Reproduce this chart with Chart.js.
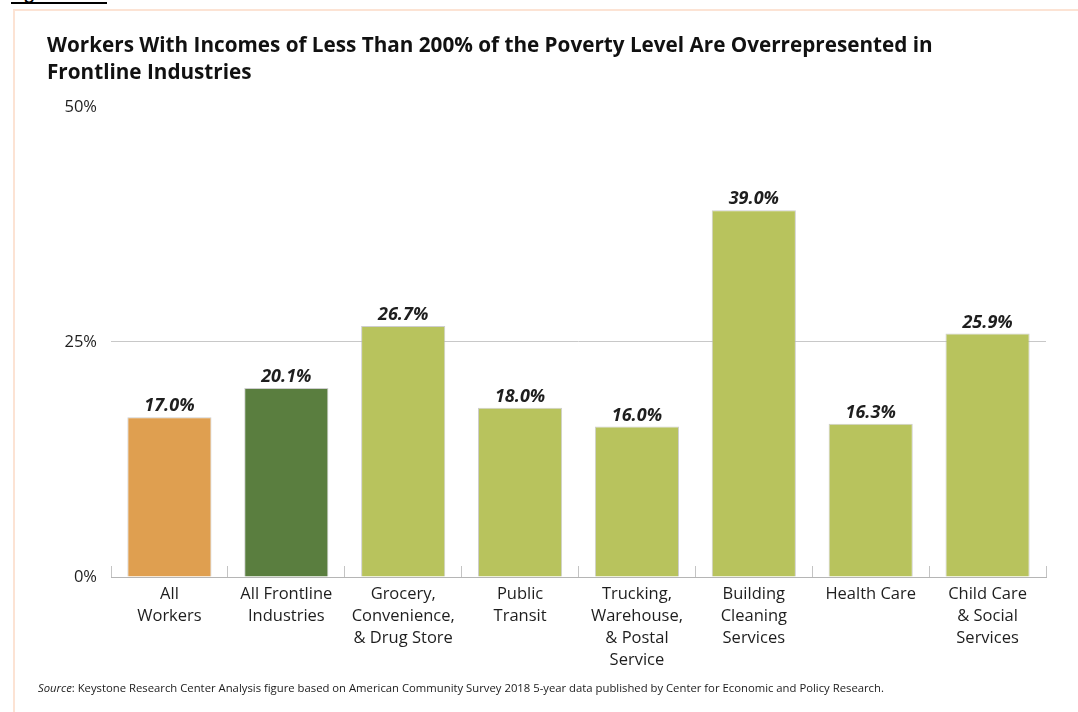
<!DOCTYPE html>
<html>
<head>
<meta charset="utf-8">
<script src="https://cdn.jsdelivr.net/npm/chart.js@4.4.1/dist/chart.umd.min.js"></script>
<style>
  html, body { margin: 0; padding: 0; background: #fff; }
  #wrap { position: relative; width: 1078px; height: 712px; overflow: hidden; background: #fff; }
  .frame { position: absolute; left: 13px; top: 9px; width: 1100px; height: 720px;
           border-left: 2px solid #fce3d4; border-top: 2px solid #fce3d4; }
  .fig { position: absolute; left: 11px; top: -18px; width: 96px; height: 20px;
         font: bold 16px 'Open Sans', sans-serif; color: #000; border-bottom: 2px solid #000; }
  canvas { position: absolute; left: 0; top: 0; }
  .src { position: absolute; left: 38px; top: 680px; font: 11.3px 'Open Sans', sans-serif;
         color: #1a1a1a; white-space: nowrap; }
</style>
</head>
<body>
<div id="wrap">
  <div class="frame"></div>
  <div class="fig">Figure</div>
  <canvas id="c" width="1078" height="712"></canvas>
  <div class="src"><i>Source</i>: Keystone Research Center Analysis figure based on American Community Survey 2018 5-year data published by Center for Economic and Policy Research.</div>
</div>
<script>
// Industry groups (multi-line axis labels)
const categories = [
  ['All', 'Workers'],
  ['All Frontline', 'Industries'],
  ['Grocery,', 'Convenience,', '& Drug Store'],
  ['Public', 'Transit'],
  ['Trucking,', 'Warehouse,', '& Postal', 'Service'],
  ['Building', 'Cleaning', 'Services'],
  ['Health Care'],
  ['Child Care', '& Social', 'Services']
];
// Share of workers with incomes below 200% of the poverty level (%)
const shareBelow200 = [17.0, 20.1, 26.7, 18.0, 16.0, 39.0, 16.3, 25.9];
const barColors = ['#DF9F50', '#5A7E3F', '#B8C35D', '#B8C35D', '#B8C35D', '#B8C35D', '#B8C35D', '#B8C35D'];
const yTickValues = [0, 25, 50];
const titleLines = [
  'Workers With Incomes of Less Than 200% of the Poverty Level Are Overrepresented in',
  'Frontline Industries'
];

const FONT = "'Open Sans', sans-serif";

// Writes each bar's value just above it
const valueLabels = {
  id: 'valueLabels',
  afterDatasetsDraw(chart) {
    const ctx = chart.ctx;
    const meta = chart.getDatasetMeta(0);
    ctx.save();
    ctx.font = 'italic bold 18px ' + FONT;
    ctx.fillStyle = '#1e1e1e';
    ctx.textAlign = 'center';
    ctx.textBaseline = 'bottom';
    meta.data.forEach((bar, i) => {
      ctx.fillText(shareBelow200[i].toFixed(1) + '%', bar.x, bar.y - 2);
    });
    ctx.restore();
  }
};

new Chart(document.getElementById('c'), {
  type: 'bar',
  data: {
    labels: categories,
    datasets: [{
      data: shareBelow200,
      backgroundColor: barColors,
      borderColor: 'rgba(185,185,185,0.7)',
      borderWidth: 1,
      barPercentage: 0.72,
      categoryPercentage: 1.0
    }]
  },
  options: {
    responsive: false,
    animation: false,
    devicePixelRatio: 1,
    layout: { padding: { left: 47, right: 32, top: 33, bottom: 0 } },
    plugins: {
      legend: { display: false },
      tooltip: { enabled: false },
      title: {
        display: true,
        text: titleLines,
        align: 'start',
        color: '#111',
        font: { family: FONT, weight: 'bold', size: 20.7, lineHeight: 1.3 },
        padding: { top: 0, bottom: 20 }
      }
    },
    scales: {
      x: {
        offset: true,
        grid: {
          display: true,
          offset: true,
          drawOnChartArea: false,
          drawTicks: true,
          tickLength: -11,
          color: '#c4c4c4',
          lineWidth: 1
        },
        border: { display: true, color: '#b5b5b5', width: 1 },
        ticks: {
          color: '#1e1e1e',
          padding: 17,
          maxRotation: 0,
          autoSkip: false,
          font: { family: FONT, size: 16.5, lineHeight: 1.33 }
        },
        afterFit(scale) { scale.height = 135; }
      },
      y: {
        min: 0,
        max: 50,
        afterBuildTicks(scale) { scale.ticks = yTickValues.map(v => ({ value: v })); },
        grid: {
          drawTicks: false,
          color: ctx => (ctx.tick && ctx.tick.value === 25 ? '#c8c8c8' : 'rgba(0,0,0,0)'),
          lineWidth: 1
        },
        border: { display: false },
        ticks: {
          color: '#1e1e1e',
          padding: 14,
          font: { family: FONT, size: 16.5 },
          callback: v => v + '%'
        },
        afterFit(scale) { scale.width = 64; }
      }
    }
  },
  plugins: [valueLabels]
});
</script>
</body>
</html>
